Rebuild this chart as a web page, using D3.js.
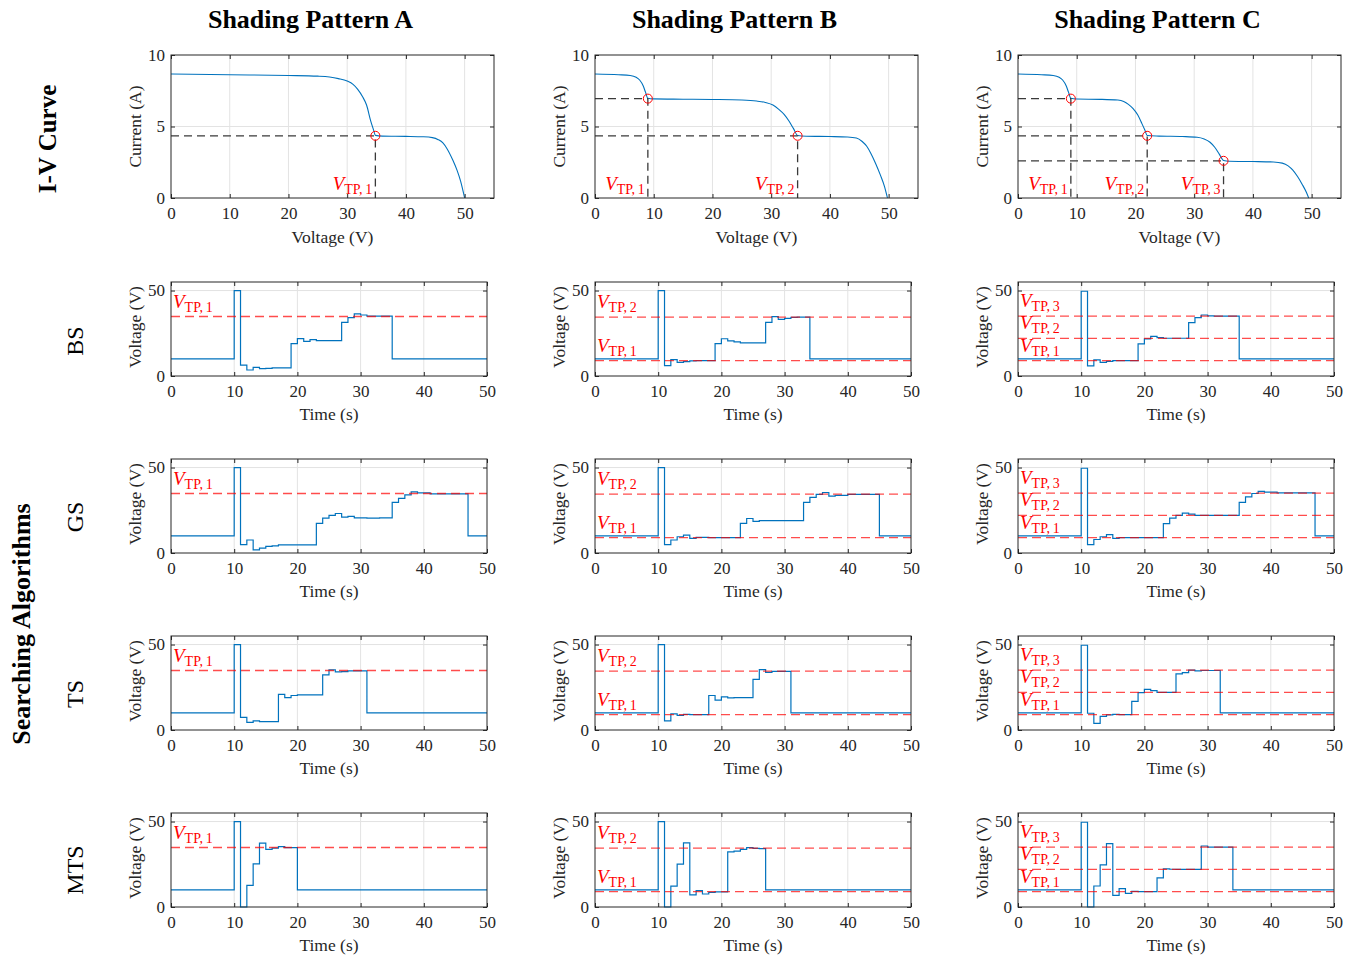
<!DOCTYPE html>
<html>
<head>
<meta charset="utf-8">
<script src="https://cdn.jsdelivr.net/npm/d3@7"></script>
<style>
  html, body { margin: 0; padding: 0; background: #fff; }
  svg { display: block; }
  svg text { font-family: "Liberation Serif", "Times New Roman", serif; }
</style>
</head>
<body>
<svg id="chart" width="1361" height="956"></svg>
<script>
// ---------------- DATA ----------------
const patterns = ["Shading Pattern A", "Shading Pattern B", "Shading Pattern C"];
const algorithms = ["BS", "GS", "TS", "MTS"];
const ivTicksX = [0, 10, 20, 30, 40, 50];
const ivTicksY = [0, 5, 10];
const timeTicksX = [0, 10, 20, 30, 40, 50];
const timeTicksY = [0, 50];

// I-V curves: [voltage (V), current (A)]
const ivCurveA = [[0,8.67],[10,8.62],[20,8.57],[25,8.52],[27,8.46],[28.5,8.35],[30,8.18],[31,7.95],[31.8,7.6],[32.6,7.1],[33.3,6.5],[34.0,5.4],[34.5,4.75],[34.8,4.38],[36,4.33],[40,4.31],[43,4.28],[44.5,4.22],[45.5,4.08],[46.3,3.85],[47,3.45],[48,2.64],[48.7,1.95],[49.3,1.2],[50,0]];
const ivCurveB = [[0,8.67],[4,8.62],[6,8.57],[7,8.45],[7.6,8.25],[8.2,7.85],[8.6,7.4],[9,6.97],[10,6.93],[15,6.91],[20,6.89],[25,6.85],[27.5,6.78],[29,6.68],[30.3,6.5],[31.3,6.2],[32.2,5.85],[33,5.4],[33.8,4.85],[34.5,4.37],[36,4.32],[40,4.30],[43,4.27],[44.5,4.2],[45.5,3.95],[46.3,3.6],[47,3.1],[47.8,2.4],[48.6,1.6],[49.3,0.8],[49.8,0]];
const ivCurveC = [[0,8.67],[4,8.62],[6,8.57],[7,8.45],[7.6,8.25],[8.2,7.85],[8.6,7.4],[9,6.97],[10,6.92],[14,6.9],[17,6.85],[18,6.75],[18.8,6.55],[19.6,6.25],[20.4,5.8],[21.1,5.2],[21.6,4.75],[22,4.37],[24,4.33],[28,4.3],[30.5,4.25],[31.7,4.13],[32.7,3.9],[33.5,3.55],[34.3,3.05],[35,2.62],[36,2.57],[40,2.55],[43.5,2.52],[45,2.44],[46,2.25],[46.8,1.95],[47.6,1.5],[48.4,0.95],[49.1,0.4],[49.5,0]];

// Turning points per pattern
const tpVoltA = [34.8];       const tpCurrA = [4.35];
const tpVoltB = [9, 34.5];    const tpCurrB = [6.95, 4.35];
const tpVoltC = [9, 22, 35];  const tpCurrC = [6.95, 4.35, 2.6];

// Search traces: step breakpoints [time (s), voltage (V)]
const bsA  = [[0,10],[10,50],[11,6.4],[12,3.5],[13,5],[14,4.3],[15,4.5],[16,4.8],[19,19],[20,21.9],[21,20.3],[22,21.3],[23,20.7],[27,31.4],[28,34.1],[29,36.4],[30,35.7],[31,35],[35,10],[50,10]];
const gsA  = [[0,10],[10,50],[11,4.9],[12,7.6],[13,1.8],[14,2.9],[15,3.9],[16,4.2],[17,4.7],[23,17.3],[24,20.4],[25,22],[26,23.1],[27,21],[28,21.4],[29,20.6],[31,20.4],[33,20.6],[35,29.6],[36,32],[37,34],[38,35.8],[39,35.2],[41,34.6],[47,10],[50,10]];
const tsA  = [[0,10],[10,50],[11,7.4],[12,4.5],[13,5.3],[14,4.9],[17,20.8],[18,18.9],[19,20.2],[20,20.6],[24,32.3],[25,35.2],[26,34],[27,34.2],[28,34.6],[31,10],[50,10]];
const mtsA = [[0,10],[10,50],[11,0],[12,12.6],[13,25.2],[14,37.4],[15,33.7],[16,34.5],[17,35.3],[18,34.7],[20,10],[50,10]];

const bsB  = [[0,10],[10,50],[11,6.1],[12,9.6],[13,8],[14,8.4],[15,8.8],[16,9],[19,19],[20,21.8],[21,20.6],[22,20],[23,19.4],[27,31.4],[28,34.7],[29,33.1],[30,33.7],[31,34.3],[32,34.5],[34,10],[50,10]];
const gsB  = [[0,10],[10,50],[11,4.9],[12,7.6],[13,9.5],[14,10.5],[15,8.6],[16,9.1],[18,9],[23,17.3],[24,20.2],[25,18.5],[26,18.9],[33,29.6],[34,32.5],[35,34.3],[36,35.4],[37,33.3],[38,33.7],[40,34.3],[45,10],[50,10]];
const tsB  = [[0,10],[10,50],[11,5.3],[12,9.4],[13,8.6],[14,9.2],[15,9],[18,20.2],[19,17.5],[20,19.4],[21,18.8],[22,19],[25,29.6],[26,35.3],[27,33.7],[28,34.3],[31,10],[50,10]];
const mtsB = [[0,10],[10,50],[11,0],[12,12.2],[13,25.1],[14,37.5],[15,7.1],[16,9.6],[17,7.6],[18,8.6],[19,8.8],[21,32.2],[22,32.7],[23,33.7],[24,34.7],[25,34.3],[26,34.1],[27,10],[50,10]];

const bsC  = [[0,10],[10,49.6],[11,5.9],[12,9.4],[13,8],[14,8.6],[15,9],[19,18.8],[20,21.7],[21,23.2],[22,22.5],[23,22.1],[27,31.2],[28,34.2],[29,35.7],[30,35.2],[31,35],[35,10],[50,10]];
const gsC  = [[0,10],[10,49.6],[11,4.9],[12,7.9],[13,9.5],[14,10.7],[15,8.5],[16,9],[23,17.2],[24,20.4],[25,22],[26,23.3],[27,22.7],[28,22],[35,29.6],[36,32.8],[37,34.8],[38,36],[39,35.6],[41,35.2],[47,10],[50,10]];
const tsC  = [[0,10],[10,49.6],[11,9.8],[12,3.9],[13,8],[14,8.8],[15,9.2],[16,9],[18,16.8],[19,21.9],[20,23.8],[21,23],[22,22],[25,32.8],[26,33.6],[27,35],[28,34.6],[29,34.8],[32,10],[50,10]];
const mtsC = [[0,10],[10,49.6],[11,0],[12,12.3],[13,24.6],[14,37.1],[15,6.8],[16,10.7],[17,8],[18,9.2],[19,9],[22,17],[23,22.3],[24,22.1],[25,22],[29,35.7],[30,35],[34,10],[50,10]];

// ---------------- LAYOUT ----------------
const FONT = '"Liberation Serif", "Times New Roman", serif';
const BLUE = "#0072BD";
const AXC = "#262626";
const GRID = "#e3e3e3";
const colLeft = [171, 595, 1018];
const ivTop = 55, ivW = 323, ivH = 143;
const rowTops = [282, 459, 636, 813];
const tW = 316, tH = 94;

const svg = d3.select("#chart");
svg.append("rect").attr("width", 1361).attr("height", 956).attr("fill", "#fff");

const ivData = [
  {curve: ivCurveA, tpV: tpVoltA, tpI: tpCurrA},
  {curve: ivCurveB, tpV: tpVoltB, tpI: tpCurrB},
  {curve: ivCurveC, tpV: tpVoltC, tpI: tpCurrC}
];
const traces = [
  [bsA, gsA, tsA, mtsA],
  [bsB, gsB, tsB, mtsB],
  [bsC, gsC, tsC, mtsC]
];

function tpLabel(g, x, y, k, anchor) {
  const t = g.append("text")
    .attr("x", x).attr("y", y)
    .attr("fill", "#ff0000")
    .attr("text-anchor", anchor)
    .style("font-family", FONT);
  t.append("tspan").style("font-style", "italic").style("font-size", "19px").text("V");
  t.append("tspan").style("font-size", "14px").attr("dy", 4).text("TP,\u2009" + k);
}

function frame(g, x, y, w, h, gridX, gridY) {
  g.append("g").selectAll("line").data(gridX).join("line")
    .attr("x1", d => x(d)).attr("x2", d => x(d)).attr("y1", 0).attr("y2", h)
    .attr("stroke", GRID).attr("stroke-width", 1);
  g.append("g").selectAll("line").data(gridY).join("line")
    .attr("y1", d => y(d)).attr("y2", d => y(d)).attr("x1", 0).attr("x2", w)
    .attr("stroke", GRID).attr("stroke-width", 1);
}

function axes(g, x, y, w, h, xt, yt) {
  const styleAx = sel => {
    sel.select(".domain").remove();
    sel.style("font-family", FONT).style("font-size", "17px");
    sel.selectAll(".tick line").attr("stroke", AXC).attr("stroke-width", 1);
    sel.selectAll("text").style("font-family", FONT).style("font-size", "17px").attr("fill", AXC);
  };
  g.append("g").attr("transform", `translate(0,${h})`)
    .call(d3.axisBottom(x).tickValues(xt).tickSize(-4).tickPadding(9).tickFormat(d3.format("d"))).call(styleAx);
  g.append("g")
    .call(d3.axisLeft(y).tickValues(yt).tickSize(-4).tickPadding(6).tickFormat(d3.format("d"))).call(styleAx);
  g.append("g")
    .call(d3.axisTop(x).tickValues(xt).tickSize(-4).tickFormat("")).call(styleAx);
  g.append("g").attr("transform", `translate(${w},0)`)
    .call(d3.axisRight(y).tickValues(yt).tickSize(-4).tickFormat("")).call(styleAx);
  g.append("rect").attr("width", w).attr("height", h)
    .attr("fill", "none").attr("stroke", AXC).attr("stroke-width", 1);
}

function axTitles(g, w, h, xlab, ylab, xOff, yCenter) {
  g.append("text").attr("x", w * 0.5).attr("y", h + xOff)
    .attr("text-anchor", "middle").attr("fill", AXC)
    .style("font-family", FONT).style("font-size", "17.5px")
    .text(xlab);
  g.append("text")
    .attr("transform", `translate(-30,${yCenter}) rotate(-90)`)
    .attr("text-anchor", "middle").attr("fill", AXC)
    .style("font-family", FONT).style("font-size", "17.5px")
    .text(ylab);
}

// ---------------- I-V ROW ----------------
ivData.forEach((d, ci) => {
  const g = svg.append("g").attr("transform", `translate(${colLeft[ci]},${ivTop})`);
  const x = d3.scaleLinear().domain([0, 55]).range([0, ivW]);
  const y = d3.scaleLinear().domain([0, 10]).range([ivH, 0]);
  frame(g, x, y, ivW, ivH, ivTicksX.slice(1), [5]);

  g.append("path").datum(d.curve)
    .attr("d", d3.line().x(p => x(p[0])).y(p => y(p[1])).curve(d3.curveMonotoneX))
    .attr("fill", "none").attr("stroke", BLUE).attr("stroke-width", 1.1);

  d.tpV.forEach((v, k) => {
    const pts = [[0, d.tpI[k]], [v, d.tpI[k]], [v, 0]];
    g.append("path").datum(pts)
      .attr("d", d3.line().x(p => x(p[0])).y(p => y(p[1])))
      .attr("fill", "none").attr("stroke", "#3a3a3a").attr("stroke-width", 1.3)
      .attr("stroke-dasharray", "8,5");
    g.append("circle").attr("cx", x(v)).attr("cy", y(d.tpI[k])).attr("r", 4.5)
      .attr("fill", "none").attr("stroke", "#ff0000").attr("stroke-width", 1);
    tpLabel(g, x(v) - 3, y(0.55), k + 1, "end");
  });

  axes(g, x, y, ivW, ivH, ivTicksX, ivTicksY);
  axTitles(g, ivW, ivH, "Voltage (V)", "Current (A)", 45, ivH / 2);

  svg.append("text")
    .attr("x", colLeft[ci] + ivW / 2 - 22).attr("y", 28)
    .attr("text-anchor", "middle").attr("fill", "#000")
    .style("font-family", FONT).style("font-weight", "bold").style("font-size", "26px")
    .text(patterns[ci]);
});

// ---------------- SEARCH ROWS ----------------
traces.forEach((col, ci) => {
  const tps = ivData[ci].tpV;
  col.forEach((tr, ri) => {
    const g = svg.append("g").attr("transform", `translate(${colLeft[ci]},${rowTops[ri]})`);
    const x = d3.scaleLinear().domain([0, 50]).range([0, tW]);
    const y = d3.scaleLinear().domain([0, 55]).range([tH, 0]);
    frame(g, x, y, tW, tH, [10, 20, 30, 40], [50]);

    g.append("path").datum(tr)
      .attr("d", d3.line().x(p => x(p[0])).y(p => y(p[1])).curve(d3.curveStepAfter))
      .attr("fill", "none").attr("stroke", BLUE).attr("stroke-width", 1.2);

    tps.forEach((v, k) => {
      g.append("line").attr("x1", 0).attr("x2", tW).attr("y1", y(v)).attr("y2", y(v))
        .attr("stroke", "#ff0000").attr("stroke-opacity", 0.7).attr("stroke-width", 1.3)
        .attr("stroke-dasharray", "9,5");
      tpLabel(g, 2, y(v) - 9, k + 1, "start");
    });

    axes(g, x, y, tW, tH, timeTicksX, timeTicksY);
    axTitles(g, tW, tH, "Time (s)", "Voltage (V)", 44, tH / 2 - 2);
  });
});

// ---------------- ROW LABELS ----------------
function vLabel(x, y, txt, size, bold) {
  svg.append("text")
    .attr("transform", `translate(${x},${y}) rotate(-90)`)
    .attr("text-anchor", "middle").attr("fill", "#000")
    .style("font-family", FONT).style("font-size", size + "px")
    .style("font-weight", bold ? "bold" : "normal")
    .text(txt);
}
vLabel(56, 139, "I-V Curve", 25, true);
const rowLabelY = [341, 517, 694, 870];
algorithms.forEach((a, i) => vLabel(83, rowLabelY[i], a, 24, false));
vLabel(30, 624, "Searching Algorithms", 26, true);
</script>
</body>
</html>
